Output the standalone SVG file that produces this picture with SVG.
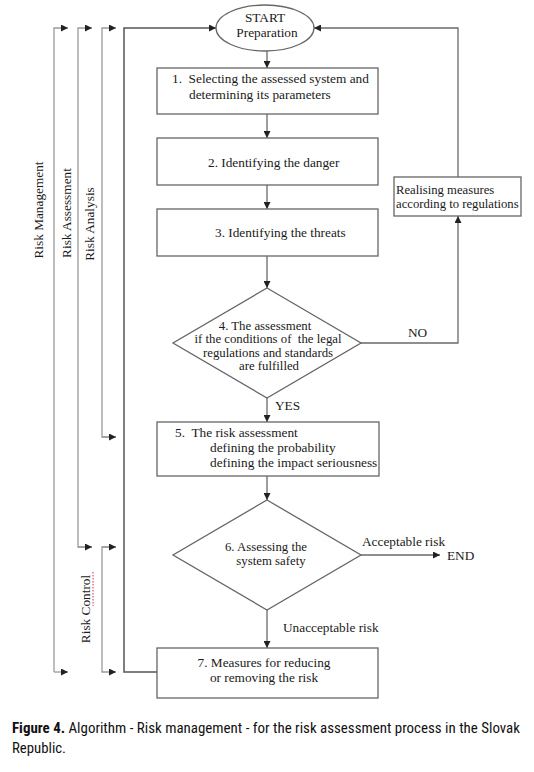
<svg xmlns="http://www.w3.org/2000/svg" width="534" height="772" viewBox="0 0 534 772">
<defs>
<marker id="ah" viewBox="0 0 8 8" refX="8" refY="4" markerWidth="7" markerHeight="7" markerUnits="userSpaceOnUse" orient="auto">
<path d="M0,0 L8,4 L0,8 z" fill="#222"/>
</marker>
</defs>
<style>
.t{font-family:"Liberation Serif","Times New Roman",serif;font-size:13.3px;fill:#1a1a1a}
.d{font-size:12.8px}
.r{font-size:12.7px}
.m{text-anchor:middle}
.box{fill:#fff;stroke:#666;stroke-width:1.3}
.ln{fill:none;stroke:#6a6a6a;stroke-width:1.3}
.side{fill:none;stroke:#9a9a9a;stroke-width:1.3}
.main{fill:none;stroke:#555;stroke-width:1.5}
.cap{font-family:"Liberation Sans Narrow","Roboto Condensed","Liberation Sans",sans-serif;font-size:15px;fill:#111}
</style>
<rect width="534" height="772" fill="#fff"/>

<g id="connectors">
<line class="ln" x1="267" y1="51" x2="267" y2="68" marker-end="url(#ah)"/>
<line class="ln" x1="267" y1="114" x2="267" y2="138" marker-end="url(#ah)"/>
<line class="ln" x1="267" y1="185" x2="267" y2="209" marker-end="url(#ah)"/>
<line class="ln" x1="267" y1="256" x2="267" y2="288" marker-end="url(#ah)"/>
<line class="ln" x1="267" y1="398" x2="267" y2="422" marker-end="url(#ah)"/>
<line class="ln" x1="267" y1="476" x2="267" y2="500" marker-end="url(#ah)"/>
<line class="ln" x1="267" y1="610" x2="267" y2="648" marker-end="url(#ah)"/>
<polyline class="ln" points="361,343 458,343 458,216" marker-end="url(#ah)"/>
<polyline class="ln" points="458,177 458,28 314,28" marker-end="url(#ah)"/>
<line class="ln" x1="361" y1="555" x2="440" y2="555" marker-end="url(#ah)"/>
<polyline class="main" points="157,672 124,672 124,28 216,28" marker-end="url(#ah)"/>
<polyline class="side" points="54,672 54,28 68,28" marker-end="url(#ah)"/>
<line class="side" x1="54" y1="672" x2="68" y2="672" marker-end="url(#ah)"/>
<polyline class="side" points="92,547 78,547 78,28 92,28" marker-end="url(#ah)"/>
<line class="side" x1="78" y1="547" x2="92" y2="547" marker-end="url(#ah)"/>
<polyline class="side" points="116,437 102,437 102,28 116,28" marker-end="url(#ah)"/>
<line class="side" x1="102" y1="437" x2="116" y2="437" marker-end="url(#ah)"/>
<polyline class="side" points="116,547 102,547 102,672 116,672" marker-end="url(#ah)"/>
<line class="side" x1="102" y1="547" x2="116" y2="547" marker-end="url(#ah)"/>
</g>

<g id="start">
<ellipse class="box" cx="265" cy="28" rx="49" ry="23"/>
<text class="t m" x="265" y="22">START</text>
<text class="t m" x="267" y="37">Preparation</text>
</g>

<g id="step1">
<rect class="box" x="157" y="68" width="221" height="46"/>
<text class="t" x="172" y="83" xml:space="preserve">1.  Selecting the assessed system and</text>
<text class="t" x="189" y="99">determining its parameters</text>
</g>

<g id="step2">
<rect class="box" x="157" y="138" width="221" height="47"/>
<text class="t" x="208" y="167">2. Identifying the danger</text>
</g>

<g id="step3">
<rect class="box" x="157" y="209" width="221" height="47"/>
<text class="t" x="215" y="237">3. Identifying the threats</text>
</g>

<g id="step4">
<polygon class="box" points="267,288 361,343 267,398 173,343"/>
<text class="t d m" x="265" y="329.5">4. The assessment</text>
<text class="t d m" x="268" y="343" xml:space="preserve">if the conditions of  the legal</text>
<text class="t d m" x="268" y="356.5">regulations and standards</text>
<text class="t d m" x="269" y="370">are fulfilled</text>
</g>

<g id="realising">
<rect class="box" x="394" y="177" width="127" height="39"/>
<text class="t r" x="396" y="194">Realising measures</text>
<text class="t r" x="396" y="208">according to regulations</text>
</g>

<g id="step5">
<rect class="box" x="157" y="422" width="222" height="54"/>
<text class="t" x="175" y="437" xml:space="preserve">5.  The risk assessment</text>
<text class="t" x="210" y="452">defining the probability</text>
<text class="t" x="210" y="467">defining the impact seriousness</text>
</g>

<g id="step6">
<polygon class="box" points="267,500 361,555 267,610 173,555"/>
<text class="t d m" x="266" y="551">6. Assessing the</text>
<text class="t d m" x="271" y="565">system safety</text>
</g>

<g id="step7">
<rect class="box" x="157" y="648" width="221" height="50"/>
<text class="t m" x="264" y="667">7. Measures for reducing</text>
<text class="t m" x="264" y="682">or removing the risk</text>
</g>

<g id="labels">
<text class="t" x="408" y="337">NO</text>
<text class="t" x="275" y="410">YES</text>
<text class="t" x="362" y="546">Acceptable risk</text>
<text class="t" x="447" y="560">END</text>
<text class="t" x="283" y="632">Unacceptable risk</text>
<text class="t m" x="43" y="210" transform="rotate(-90 43 210)">Risk Management</text>
<text class="t m" x="71" y="213" transform="rotate(-90 71 213)">Risk Assessment</text>
<text class="t m" x="94" y="224" transform="rotate(-90 94 224)">Risk Analysis</text>
<text class="t m" x="90" y="609" transform="rotate(-90 90 609)">Risk Control</text>
<line x1="93" y1="572" x2="93" y2="606" stroke="#e03030" stroke-width="1" stroke-dasharray="1.5,1.5"/>
</g>

<g id="caption">
<text class="cap" x="12" y="733" textLength="508" lengthAdjust="spacingAndGlyphs"><tspan font-weight="bold">Figure 4.</tspan> Algorithm - Risk management - for the risk assessment process in the Slovak</text>
<text class="cap" x="12" y="753" textLength="54" lengthAdjust="spacingAndGlyphs">Republic.</text>
</g>
</svg>
